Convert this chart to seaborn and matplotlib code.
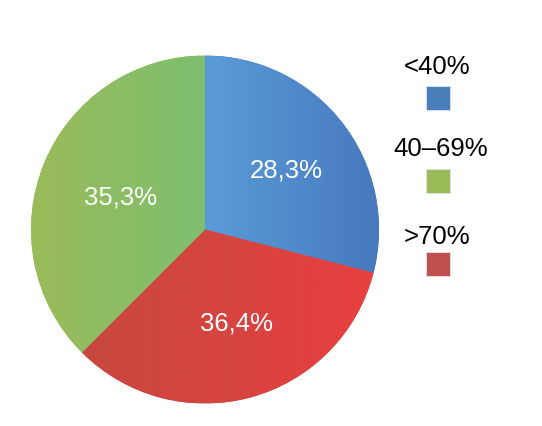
import numpy as np
import matplotlib
matplotlib.use("Agg")
import matplotlib.pyplot as plt
import seaborn as sns
from matplotlib.patches import Rectangle
from matplotlib.colors import LinearSegmentedColormap

# ---- data ----
categories = ["<40%", "40–69%", ">70%"]
label_values = [28.3, 35.3, 36.4]          # percentages printed on the slices
slice_sizes = [29.0, 37.5, 33.5]           # slice sizes as drawn in the picture
# drawing order around the pie (clockwise from top)
pie_order = ["<40%", ">70%", "40–69%"]

legend_colors = {"<40%": "#4a7ebb", "40–69%": "#9bbb59", ">70%": "#c0504d"}
grad_colors = {
    "<40%": ("#5a9bd7", "#4879bd"),
    ">70%": ("#c6483f", "#e8403f"),
    "40–69%": ("#9bbb59", "#7dbf70"),
}

sns.set_theme(style="white")
plt.rcParams["font.family"] = ["Liberation Sans", "DejaVu Sans"]

W, H = 542, 426
fig = plt.figure(figsize=(W / 100, H / 100), dpi=100)
fig.patch.set_facecolor("white")

cx, cy, R = 205, 229.5, 174
ax = fig.add_axes([(cx - R) / W, (H - cy - R) / H, 2 * R / W, 2 * R / H])

vals = [slice_sizes[categories.index(c)] for c in pie_order]
wedges, _ = ax.pie(vals, startangle=90, counterclock=False, radius=1,
                   colors=[legend_colors[c] for c in pie_order],
                   wedgeprops=dict(linewidth=0))
ax.set_xlim(-1, 1)
ax.set_ylim(-1, 1)
ax.set_aspect("equal")
ax.axis("off")

# horizontal gradient fill per wedge
for w, c in zip(wedges, pie_order):
    ext = w.get_path().get_extents(w.get_patch_transform())
    x0, x1 = ext.x0, ext.x1
    cmap = LinearSegmentedColormap.from_list("g", list(grad_colors[c]))
    grad = np.linspace(0, 1, 256).reshape(1, -1)
    im = ax.imshow(grad, cmap=cmap, extent=[x0, x1, -1, 1], aspect="auto",
                   interpolation="bilinear", zorder=w.get_zorder() + 0.1)
    im.set_clip_path(w)
ax.set_xlim(-1, 1)
ax.set_ylim(-1, 1)

# percentage labels (angle in degrees, radius fraction)
label_pos = {"<40%": (36, 0.58), ">70%": (-71.4, 0.57), "40–69%": (159, 0.52)}
for c in pie_order:
    a, r = label_pos[c]
    v = label_values[categories.index(c)]
    ax.text(r * np.cos(np.radians(a)), r * np.sin(np.radians(a)),
            f"{v:.1f}%".replace(".", ","), color="white", fontsize=18.5,
            ha="center", va="center", zorder=10)

# legend: label above colour square
legend_layout = {"<40%": (437, 67, 98), "40–69%": (441, 149, 181), ">70%": (437, 237, 264)}
for c in categories:
    tx, ty, sy = legend_layout[c]
    fig.text(tx / W, 1 - ty / H, c, fontsize=18.5, color="black",
             ha="center", va="center")
    s = 24
    fig.patches.append(Rectangle(((438 - s / 2) / W, 1 - (sy + s / 2) / H),
                                 s / W, s / H, transform=fig.transFigure,
                                 facecolor=legend_colors[c], edgecolor="#dfe6f0",
                                 linewidth=0.6))

fig.savefig("out.png", dpi=100)
